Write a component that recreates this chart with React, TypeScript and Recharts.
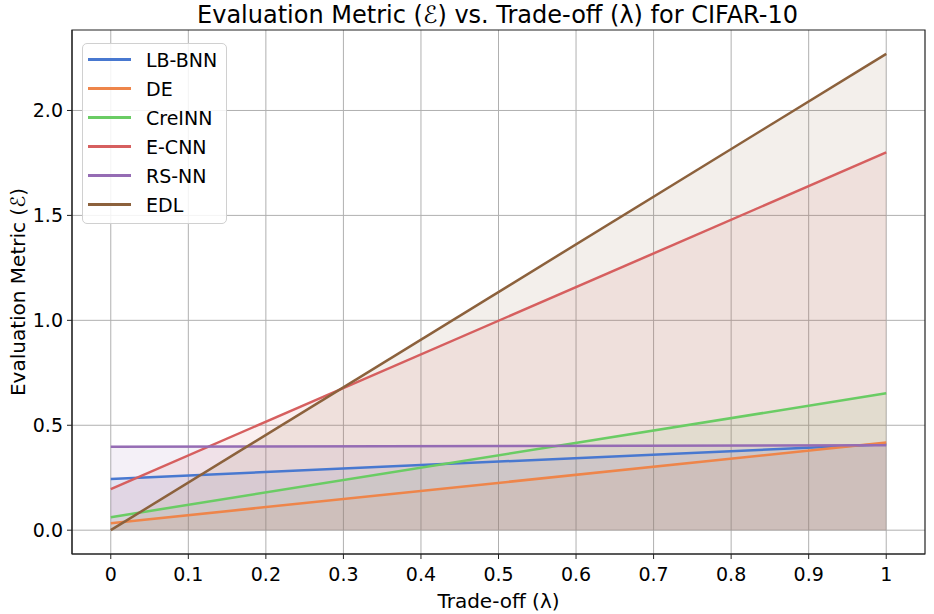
import React from 'react';
import {
  ComposedChart,
  Area,
  Line,
  XAxis,
  YAxis,
  CartesianGrid,
  ReferenceArea
} from 'recharts';

// trade-off values (lambda) at which the metric is evaluated
const lambdas = [0, 1];

// evaluation metric per model, at lambda = 0 and lambda = 1
const lbBnn = [0.244, 0.41];
const de = [0.033, 0.418];
const creInn = [0.062, 0.652];
const eCnn = [0.196, 1.80];
const rsNn = [0.397, 0.405];
const edl = [0.0, 2.27];

const xTicks = [0, 0.1, 0.2, 0.3, 0.4, 0.5, 0.6, 0.7, 0.8, 0.9, 1];
const yTicks = [0, 0.5, 1.0, 1.5, 2.0];

const X_DOMAIN: [number, number] = [-0.05, 1.05];
const Y_DOMAIN: [number, number] = [-0.1135, 2.3835];

const series = [
  { key: 'LB-BNN', values: lbBnn, color: '#4878d0' },
  { key: 'DE', values: de, color: '#ee854a' },
  { key: 'CreINN', values: creInn, color: '#6acc64' },
  { key: 'E-CNN', values: eCnn, color: '#d65f5f' },
  { key: 'RS-NN', values: rsNn, color: '#956cb4' },
  { key: 'EDL', values: edl, color: '#8c613c' },
];

const data = lambdas.map((l, i) => {
  const row: Record<string, number> = { lambda: l };
  series.forEach(s => { row[s.key] = s.values[i]; });
  return row;
});

const FONT = '"DejaVu Sans", sans-serif';

const LegendBox = () => (
  <div
    style={{
      position: 'absolute',
      left: 82,
      top: 43,
      width: 145,
      boxSizing: 'border-box',
      background: 'rgba(255,255,255,0.85)',
      border: '1px solid #d0d0d0',
      borderRadius: 5,
      padding: '1px 0 4px 5px',
      fontFamily: FONT,
      fontSize: 19,
      color: '#000',
    }}
  >
    {series.map(s => (
      <div key={s.key} style={{ display: 'flex', alignItems: 'center', height: 29 }}>
        <div style={{ width: 43, height: 3, background: s.color, marginRight: 15 }} />
        <span>{s.key}</span>
      </div>
    ))}
  </div>
);

const fmtX = (v: number) => (v === 0 ? '0' : v === 1 ? '1' : v.toFixed(1));

export default function App() {
  return (
    <div style={{ position: 'fixed', left: 0, top: 0, width: 934, height: 614, background: '#fff' }}>
      <div
        style={{
          position: 'absolute', left: 70, width: 855, top: 1, textAlign: 'center',
          fontFamily: FONT, fontSize: 24, color: '#000',
        }}
      >
        Evaluation Metric (ℰ) vs. Trade-off (λ) for CIFAR-10
      </div>
      <ComposedChart
        width={934}
        height={614}
        data={data}
        margin={{ top: 30, right: 9, left: 0, bottom: 0 }}
        style={{ fontFamily: FONT }}
      >
        <CartesianGrid stroke="#b0b0b0" strokeWidth={1} horizontalValues={yTicks} verticalValues={xTicks} />
        <XAxis
          dataKey="lambda"
          type="number"
          domain={X_DOMAIN}
          ticks={xTicks}
          tickFormatter={fmtX}
          height={60}
          tickSize={5}
          tickMargin={9}
          stroke="#222"
          tick={{ fill: '#000', fontSize: 19 }}
          label={{ value: 'Trade-off (λ)', position: 'insideBottom', offset: 6, fill: '#000', fontSize: 20 }}
        />
        <YAxis
          type="number"
          domain={Y_DOMAIN}
          ticks={yTicks}
          tickFormatter={(v: number) => v.toFixed(1)}
          width={72}
          tickSize={5}
          tickMargin={4}
          stroke="#222"
          tick={{ fill: '#000', fontSize: 19 }}
          label={{ value: 'Evaluation Metric (ℰ)', angle: -90, position: 'insideLeft', offset: 18, textAnchor: 'middle', fill: '#000', fontSize: 20 }}
        />
        {/* shaded regions under each curve */}
        {series.map(s => (
          <Area
            key={`fill-${s.key}`}
            type="linear"
            dataKey={s.key}
            stroke="none"
            fill={s.color}
            fillOpacity={0.1}
            dot={false}
            activeDot={false}
            isAnimationActive={false}
          />
        ))}
        {/* curves drawn on top of the fills */}
        {series.map(s => (
          <Line
            key={`line-${s.key}`}
            type="linear"
            dataKey={s.key}
            stroke={s.color}
            strokeWidth={2.5}
            dot={false}
            activeDot={false}
            isAnimationActive={false}
          />
        ))}
        <ReferenceArea
          x1={X_DOMAIN[0]}
          x2={X_DOMAIN[1]}
          y1={Y_DOMAIN[0]}
          y2={Y_DOMAIN[1]}
          fill="none"
          fillOpacity={0}
          stroke="#222"
          strokeWidth={1.2}
          strokeOpacity={1}
        />
      </ComposedChart>
      <LegendBox />
    </div>
  );
}
